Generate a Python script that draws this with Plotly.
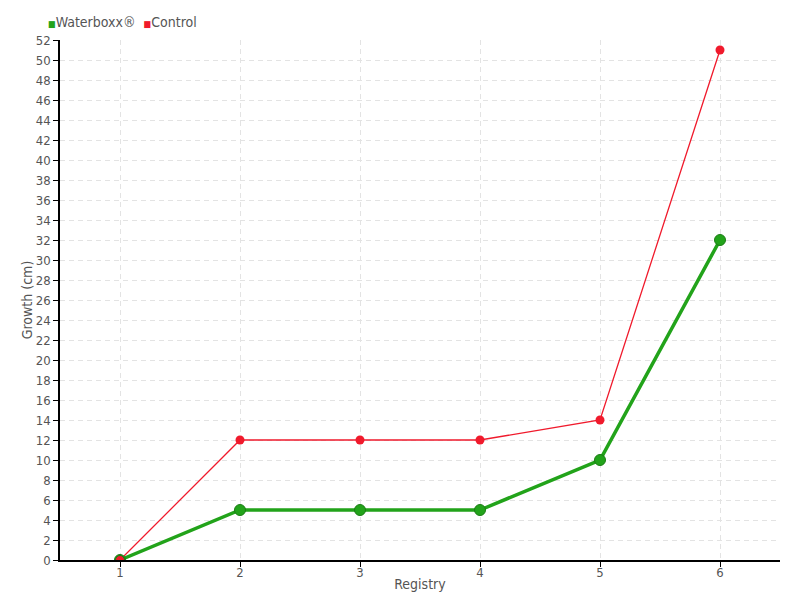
import plotly.graph_objects as go

registry = [1, 2, 3, 4, 5, 6]
waterboxx = [0, 5, 5, 5, 10, 32]
control = [0, 12, 12, 12, 14, 51]
y_ticks = list(range(0, 53, 2))

font_family = "DejaVu Sans Condensed, DejaVu Sans, sans-serif"
green = "#22a31a"
red = "#f01a2c"

fig = go.Figure()
fig.add_trace(go.Scatter(
    x=registry, y=control, name="Control", mode="lines+markers",
    line=dict(color=red, width=1.3),
    marker=dict(size=9, color=red),
))
fig.add_trace(go.Scatter(
    x=registry, y=waterboxx, name="Waterboxx®", mode="lines+markers",
    line=dict(color=green, width=3.5),
    marker=dict(size=11, color=green, line=dict(color="#1a7d14", width=1)),
))
# red first point sits on top in the original
fig.add_trace(go.Scatter(
    x=registry[:1], y=control[:1], mode="markers", hoverinfo="skip",
    marker=dict(size=9, color=red, line=dict(color="#1a7d14", width=1)),
))

# compact legend like the original: small square + label
legend_text = (
    f"<span style='color:{green};font-size:9px'>■</span>Waterboxx®  "
    f"<span style='color:{red};font-size:9px'>■</span>Control"
)
fig.add_annotation(
    text=legend_text, xref="paper", yref="paper", x=-0.019, y=1.035,
    xanchor="left", yanchor="middle", showarrow=False,
    font=dict(size=14, color="#555555"),
)

# page body adds an 8px margin, so size the figure to fit the 800x600 view
fig.update_layout(
    width=792, height=592,
    margin=dict(l=52, r=20, t=32, b=40),
    plot_bgcolor="white", paper_bgcolor="white",
    font=dict(family=font_family, size=13, color="#555555"),
    showlegend=False,
    xaxis=dict(
        title=dict(text="Registry", standoff=0, font=dict(size=14)),
        range=[0.5, 6.5], tickvals=registry, ticks="outside", ticklen=5,
        ticklabelstandoff=-5,
        tickcolor="black", showline=True, linecolor="black", linewidth=1.5,
        showgrid=True, gridcolor="#e3e3e3", griddash="5px,4px", zeroline=False,
        automargin=False,
    ),
    yaxis=dict(
        title=dict(text="Growth (cm)", standoff=0, font=dict(size=14)),
        range=[0, 52], tickvals=y_ticks, ticks="outside", ticklen=5,
        tickcolor="black", showline=True, linecolor="black", linewidth=1.5,
        showgrid=True, gridcolor="#e3e3e3", griddash="5px,4px", zeroline=False,
        automargin=False,
    ),
)

fig.write_html("out.html")
